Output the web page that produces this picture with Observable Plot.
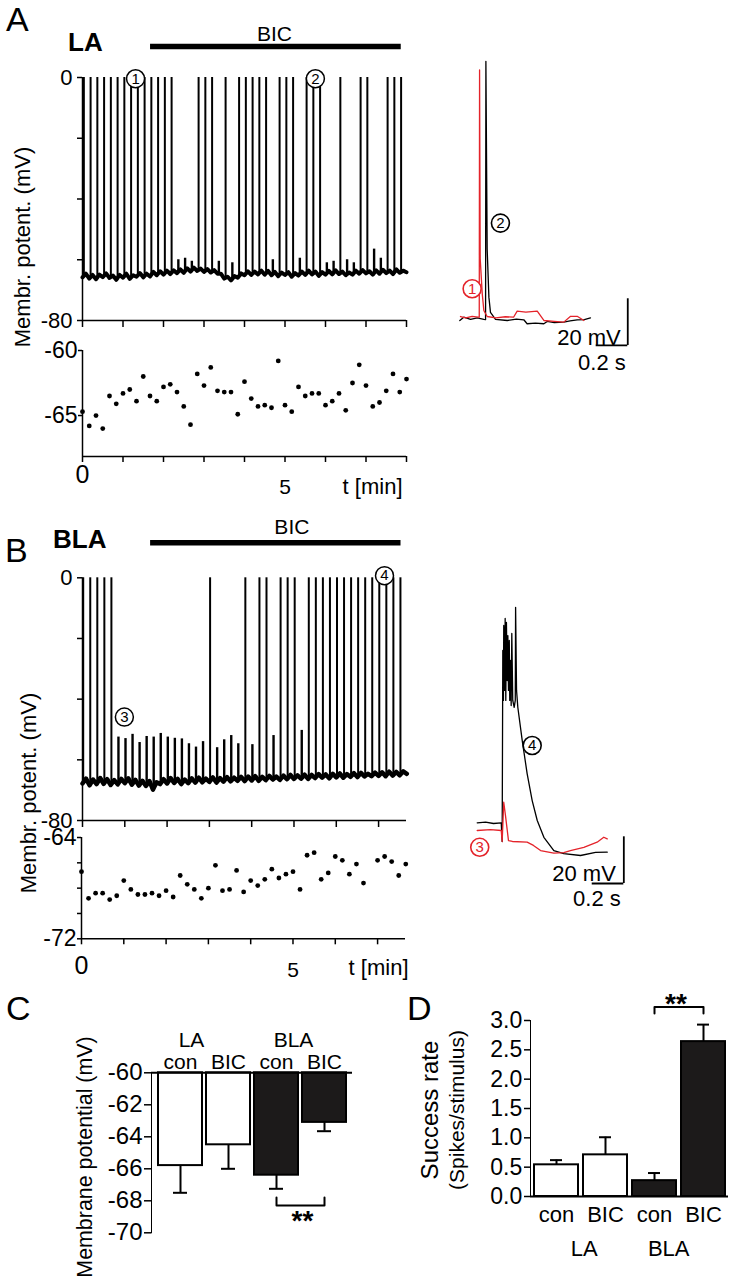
<!DOCTYPE html>
<html><head><meta charset="utf-8">
<script src="https://cdn.jsdelivr.net/npm/d3@7"></script>
<script src="https://cdn.jsdelivr.net/npm/@observablehq/plot@0.6"></script>
<style>
body{margin:0;background:#fff;}
#fig{position:relative;width:733px;height:1280px;font-family:"Liberation Sans",Arial,Helvetica,sans-serif;color:#000;overflow:hidden;}
.lbl{position:absolute;white-space:nowrap;line-height:1;}
.rot{position:absolute;white-space:nowrap;text-align:center;transform:translate(-50%,-50%) rotate(-90deg);}
#fig svg [aria-label^="y-axis"] path,#fig svg [aria-label^="x-axis"] path{stroke-width:1.5px;}
</style></head><body><div id="fig"></div>
<script>
// ================= DATA =================
const RED = "#e4232a";
const sampleStepSec = 5;    // baseline trace sampling (s)
const scatterStepSec = 10;  // membrane potential sampling (s)

// ---- Panel A (LA) ----
const baselineA = [
-65.8,-64.6,-66.2,-65.0,-66.4,-64.9,-65.7,-64.5,-66.0,-65.2,-66.6,-65.0,-65.9,-64.6,-66.3,-65.1,-65.6,-64.4,-65.8,
-64.6,-65.5,-64.0,-65.1,-63.8,-64.9,-63.6,-64.7,-63.5,-64.4,
-63.2,-64.3,-62.8,-63.9,-62.6,-63.7,
-62.9,-64.0,-63.1,-64.2,-63.4,-64.6,
-64.6,-66.2,-65.6,-66.8,-65.4,-65.9,-64.5,-65.1,
-63.8,-65.0,-63.9,-64.8,-63.6,-64.9,-63.7,-65.1,-64.0,-65.4,-64.2,-65.0,
-64.1,-65.6,-64.4,-65.2,-63.9,-65.0,-63.6,-64.8,-63.9,-65.3,-64.1,-64.9,
-63.7,-64.8,-63.5,-64.7,-63.9,-65.1,-64.2,-64.9,-63.6,-64.6,-63.4,-64.5,
-63.8,-64.9,-63.5,-64.6,-63.3,-64.4,-63.6,-64.7,-63.2,-64.3,-63.6,-64.1];
const spikeTimesA = [2,12,22,32,42,52,62,72,82,92,102,112,122,132,172,182,192,212,232,242,252,262,272,292,302,312,332,342,352,382,412,422,452,462,472];
const epspTimesA = [142,152,162,202,222,282,322,362,372,392,402,432,442];
const epspPeaksA = [-60.0,-59.5,-60.5,-60.5,-61.0,-60.0,-59.5,-61.0,-60.5,-60.0,-61.0,-56.5,-59.5];
const bicA = {start: 1.68, end: 7.87, label: "BIC", labelAt: 4.74};
const markersA = [{n: "1", t: 1.31, v: -0.4}, {n: "2", t: 5.75, v: -0.4}];
const scatterA = [-64.7,-65.8,-65.0,-66.0,-63.5,-64.1,-63.3,-63.0,-63.9,-62.0,-63.5,-63.9,-62.8,-62.6,-63.2,-64.3,-65.7,-61.8,-62.7,-61.3,-63.1,-63.2,-63.2,-64.9,-62.4,-63.7,-64.3,-64.2,-64.4,-60.8,-64.2,-64.7,-62.8,-63.5,-63.3,-63.3,-64.2,-63.9,-63.3,-64.6,-62.5,-61.1,-62.7,-64.3,-64.0,-63.1,-61.8,-63.2,-62.2];

// inset A traces: [time ms, mV]
const insetA_red = [[6,-64.7],[40,-65.3],[80,-64.6],[118,-65.0],[125,-65.0],[127,40.9],[131,-40.0],[144,-55.0],[154,-62.1],[175,-64.7],[230,-65.3],[290,-64.8],[342,-65.0],[365,-62.4],[420,-62.8],[492,-62.4],[534,-66.4],[600,-66.8],[660,-67.1],[703,-64.6],[745,-64.6],[787,-66.4]];
const insetA_black = [[2,-66.4],[27,-65.0],[70,-65.9],[112,-65.3],[154,-65.9],[165,-66.0],[167,44.6],[175,-35.7],[186,-56.4],[196,-62.9],[228,-65.9],[302,-66.4],[360,-65.8],[407,-66.1],[428,-67.8],[480,-67.5],[534,-67.8],[555,-66.8],[600,-67.3],[660,-67.1],[700,-66.6],[745,-66.1],[790,-66.0],[829,-65.3]];
const insetA_markers = [{n: "1", t: 80, v: -52.8, c: RED}, {n: "2", t: 259, v: -24.7, c: "black"}];
const scaleBarA = {t: 1065, v: -77.1, dt: 200, dv: 20, tLabel: "0.2 s", vLabel: "20 mV"};

// ---- Panel B (BLA) ----
const baselineB = [
-67.8,-66.2,-68.4,-66.5,-68.0,-66.0,-67.9,-66.4,-68.3,-66.7,-68.1,-66.3,-67.7,
-66.1,-68.2,-66.6,-68.5,-66.9,-68.6,-67.0,-69.8,-67.4,-68.0,-66.4,-67.8,
-66.0,-67.6,-66.3,-68.0,-66.5,-67.7,-66.1,-67.5,-65.9,-67.4,-66.2,-67.3,
-65.8,-67.5,-66.0,-67.2,-65.7,-67.1,-65.9,-66.9,-65.6,-67.0,-65.5,-66.8,
-65.4,-66.9,-65.6,-66.7,-65.3,-66.5,-65.5,-66.6,-65.2,-66.4,-65.0,-66.3,
-65.1,-66.2,-64.9,-66.3,-65.0,-66.0,-64.7,-65.9,-64.8,-66.1,-64.6,-65.8,
-64.5,-65.9,-64.7,-65.6,-64.4,-65.7,-64.3,-65.5,-64.6,-65.4,-64.2,-65.3,
-64.1,-65.4,-63.9,-65.2,-64.0,-65.1,-63.8,-64.6];
const spikeTimesB = [1,11,21,31,41,181,231,251,261,281,291,301,321,331,341,351,361,371,381,391,401,411,421,431,441,451];
const epspTimesB = [51,61,71,81,91,101,111,121,131,141,151,161,171,191,201,211,221,241,271,311];
const epspPeaksB = [-52.5,-53.0,-51.6,-54.3,-52.3,-52.5,-51.3,-52.5,-52.9,-53.1,-54.7,-55.8,-54.0,-56.0,-53.4,-52.0,-54.7,-55.0,-52.0,-50.3];
const bicB = {start: 1.61, end: 7.53, label: "BIC", labelAt: 4.95};
const markersB = [{n: "3", t: 0.99, v: -45.9}, {n: "4", t: 7.14, v: 0.7}];
const scatterB = [-66.7,-68.8,-68.4,-68.4,-68.9,-68.6,-67.4,-68.1,-68.5,-68.5,-68.4,-68.6,-68.2,-68.7,-67.0,-67.7,-68.1,-68.8,-68.0,-66.2,-68.2,-68.1,-66.6,-68.3,-67.4,-67.8,-67.3,-66.5,-67.2,-66.9,-66.7,-68.1,-65.4,-65.2,-67.3,-66.8,-65.5,-65.8,-66.9,-66.1,-67.6,null,-65.8,-65.5,-65.9,-67.0,-66.1];

const insetB_red = [[0,-65.0],[84,-64.6],[152,-65.0],[158,-69.7],[168,-52.9],[179,-58.6],[198,-69.3],[223,-69.7],[316,-70.0],[356,-71.4],[401,-73.6],[485,-74.7],[548,-74.5],[590,-73.6],[675,-72.2],[759,-70.0],[801,-67.9],[823,-68.6]];
const insetB_black = [[0,-61.7],[53,-61.4],[103,-62.0],[152,-61.7],[158,-69.7],[162,12.1],[166,-9.3],[168,22.8],[173,-5.0],[177,25.8],[181,-9.3],[185,24.1],[190,-0.8],[194,18.5],[198,-5.0],[203,16.4],[206,-9.3],[211,7.8],[215,-11.5],[219,19.4],[225,-9.3],[234,-12.3],[241,-9.3],[243,30.6],[249,-5.0],[257,-12.2],[285,-26.5],[316,-40.6],[348,-52.2],[380,-60.7],[422,-67.9],[485,-73.6],[548,-74.9],[654,-75.7],[749,-74.4],[823,-74.3]];
const insetB_markers = [{n: "4", t: 348, v: -28.6, c: "black"}, {n: "3", t: 16, v: -72.2, c: RED}];
const scaleBarB = {t: 928, v: -87.7, dt: 200, dv: 20, tLabel: "0.2 s", vLabel: "20 mV"};

// ---- Panels C & D ----
const regions = ["LA", "BLA"];
const conditions = ["con", "BIC"];
const membMean = [-65.8, -64.5, -66.4, -63.1];
const membSem = [1.7, 1.5, 0.85, 0.55];
const rateMean = [0.54, 0.71, 0.27, 2.64];
const rateSem = [0.08, 0.30, 0.13, 0.29];
const membTicks = [-60, -62, -64, -66, -68, -70];
const rateTicks = [0, 0.5, 1, 1.5, 2, 2.5, 3];
const sigC = {from: "BLA con", to: "BLA BIC", level: -68.3, end: -67.8, textLevel: -69.8, label: "**"};
const sigD = {from: "BLA con", to: "BLA BIC", level: 3.23, end: 3.12, textLevel: 3.12, label: "**"};

// ================= BUILD =================
const FONT = '"Liberation Sans", Arial, Helvetica, sans-serif';
const fig = document.getElementById("fig");
function mount(svg, left, top) {
  svg.style.position = "absolute";
  svg.style.left = left + "px";
  svg.style.top = top + "px";
  svg.style.background = "transparent";
  svg.style.overflow = "visible";
  fig.appendChild(svg);
}
function addLabel(text, left, top, size, weight, extra) {
  const d = document.createElement("div");
  d.className = "lbl";
  d.textContent = text;
  d.style.left = left + "px"; d.style.top = top + "px";
  d.style.fontSize = size + "px"; d.style.fontWeight = weight || "normal";
  if (extra) Object.assign(d.style, extra);
  fig.appendChild(d);
}
function addRotated(html, cx, cy, size, lineHeight) {
  const d = document.createElement("div");
  d.className = "rot";
  d.innerHTML = html;
  d.style.left = cx + "px"; d.style.top = cy + "px";
  d.style.fontSize = size + "px"; d.style.lineHeight = lineHeight;
  fig.appendChild(d);
}
const baseStyle = (fs) => ({fontFamily: FONT, fontSize: fs + "px", background: "transparent", color: "black", overflow: "visible"});

function tracePlot(baseline, spikes, epspT, epspV, bic, markers, cfg) {
  const base = baseline.map((v, i) => ({t: i * sampleStepSec / 60, v}));
  const at = s => baseline[Math.min(baseline.length - 1, Math.round(s / sampleStepSec))];
  const sp = spikes.map(s => ({t: s / 60, b: at(s), p: 0}));
  const ep = epspT.map((s, i) => ({t: s / 60, b: at(s), p: epspV[i]}));
  return Plot.plot({
    width: 420, height: 335,
    marginLeft: 82, marginRight: 14, marginTop: cfg.mt, marginBottom: 15,
    style: baseStyle(22),
    x: {domain: [0, cfg.xmax], ticks: cfg.xticks, tickSize: 7, tickFormat: () => "", label: null},
    y: {domain: [-80, 0], ticks: [0, -20, -40, -60, -80], tickSize: 5, tickPadding: 5,
        tickFormat: d => (d === 0 || d === -80) ? String(d) : "", label: null},
    marks: [
      Plot.ruleX([0], {strokeWidth: 1.5}),
      Plot.ruleY([-80], {strokeWidth: 1.5}),
      Plot.ruleX(ep, {x: "t", y1: "b", y2: "p", strokeWidth: 2.4}),
      Plot.line(base, {x: "t", y: "v", strokeWidth: cfg.bw, strokeLinejoin: "round"}),
      Plot.ruleX(sp, {x: "t", y1: "b", y2: "p", strokeWidth: 2}),
      Plot.ruleY([bic], {y: () => 0, x1: "start", x2: "end", dy: cfg.barDy, strokeWidth: 5.5}),
      Plot.text([bic], {x: "labelAt", y: () => 0, text: "label", dy: cfg.textDy, lineAnchor: "bottom", fontSize: 21}),
      Plot.dot(markers, {x: "t", y: "v", r: 9, fill: "white", stroke: "black", strokeWidth: 1.5}),
      Plot.text(markers, {x: "t", y: "v", text: "n", fontSize: 15})
    ]
  });
}

function scatterPlot(values, cfg) {
  const pts = values.map((v, i) => ({t: i * scatterStepSec / 60, v})).filter(d => d.v != null);
  return Plot.plot({
    width: 420, height: 170,
    marginLeft: cfg.ml, marginRight: cfg.mr, marginTop: cfg.mt, marginBottom: cfg.mb,
    style: baseStyle(cfg.fs),
    x: {domain: [0, cfg.xmax], ticks: cfg.xticks, tickSize: 6, tickFormat: () => "", label: null},
    y: {domain: cfg.ydomain, ticks: cfg.yticks, tickSize: 4, tickPadding: 1,
        tickFormat: d => cfg.ylabels.includes(d) ? String(d) : "", label: null},
    marks: [
      Plot.ruleX([0], {strokeWidth: 1.5}),
      Plot.ruleY([cfg.ydomain[0]], {strokeWidth: 1.5}),
      Plot.dot(pts, {x: "t", y: "v", r: 2.4, fill: "black", stroke: "none"}),
      Plot.text([0], {x: d => d, frameAnchor: "bottom", text: d => String(d), lineAnchor: "bottom", dy: cfg.dy0, fontSize: 25}),
      Plot.text([5], {x: d => d, frameAnchor: "bottom", text: d => String(d), lineAnchor: "bottom", dy: cfg.dy5, fontSize: 21}),
      Plot.text(["t [min]"], {x: () => cfg.xmax, frameAnchor: "bottom", text: d => d, textAnchor: "end", dx: cfg.tdx, lineAnchor: "bottom", dy: cfg.dyt, fontSize: 22})
    ]
  });
}

function insetPlot(red, black, markers, bar, cfg) {
  const toObj = a => a.map(([t, v]) => ({t, v}));
  return Plot.plot({
    width: cfg.w, height: cfg.h, margin: 0,
    style: baseStyle(22),
    x: {domain: cfg.xd, axis: null},
    y: {domain: cfg.yd, axis: null},
    marks: [
      Plot.line(toObj(black), {x: "t", y: "v", stroke: "black", strokeWidth: 1.3}),
      Plot.line(toObj(red), {x: "t", y: "v", stroke: RED, strokeWidth: 1.3}),
      Plot.dot(markers, {x: "t", y: "v", r: 9, fill: "white", stroke: "c", strokeWidth: 1.6}),
      Plot.text(markers, {x: "t", y: "v", text: "n", fill: "c", fontSize: 15}),
      Plot.ruleX([bar], {x: "t", y1: "v", y2: d => d.v + d.dv, strokeWidth: 1.8}),
      Plot.ruleY([bar], {y: "v", x1: d => d.t - d.dt, x2: "t", strokeWidth: 1.8}),
      Plot.text([bar], {x: "t", y: "v", text: "vLabel", textAnchor: "end", lineAnchor: "bottom", dx: cfg.vdx, dy: cfg.vdy, fontSize: 22}),
      Plot.text([bar], {x: "t", y: "v", text: "tLabel", textAnchor: "end", lineAnchor: "bottom", dx: cfg.tdx, dy: cfg.tdy, fontSize: 22})
    ]
  });
}

function barData(means, sems) {
  const out = [];
  regions.forEach((r, ri) => conditions.forEach((c, ci) => {
    const i = ri * conditions.length + ci;
    out.push({key: r + " " + c, region: r, cond: c, mean: means[i], sem: sems[i]});
  }));
  return out;
}
const keys = regions.flatMap(r => conditions.map(c => r + " " + c));
const colorScale = {domain: regions, range: ["#ffffff", "#1c1a1a"]};

// ---- Panel A ----
mount(tracePlot(baselineA, spikeTimesA, epspTimesA, epspPeaksA, bicA, markersA,
  {mt: 77, xmax: 8, xticks: d3.range(0, 9), barDy: -31, textDy: -37, bw: 4}), 0, 0);
mount(scatterPlot(scatterA, {ml: 82, mr: 14, mt: 20, mb: 44, fs: 23, xmax: 8, xticks: d3.range(0, 9),
  ydomain: [-68.15, -60], yticks: [-60, -65], ylabels: [-60, -65], dy0: 26, dy5: 37, dyt: 37, tdx: -4}), 0, 330);
mount(insetPlot(insetA_red, insetA_black, insetA_markers, scaleBarA,
  {w: 200, h: 340, xd: [-120.3, 1145.6], yd: [-92.1, 53.5], vdx: -7, vdy: 0, tdx: -2, tdy: 25}), 440, 40);

// ---- Panel B ----
mount(tracePlot(baselineB, spikeTimesB, epspTimesB, epspPeaksB, bicB, markersB,
  {mt: 77.3, xmax: 7.66, xticks: d3.range(0, 8), barDy: -35, textDy: -44, bw: 4.5}), 0, 500);
mount(scatterPlot(scatterB, {ml: 81, mr: 15, mt: 16, mb: 52.7, fs: 23, xmax: 7.66, xticks: d3.range(0, 8),
  ydomain: [-72, -64], yticks: [-64, -66, -68, -70, -72], ylabels: [-64, -72], dy0: 34.7, dy5: 37.7, dyt: 36, tdx: 3}), 0, 821);
mount(insetPlot(insetB_red, insetB_black, insetB_markers, scaleBarB,
  {w: 220, h: 420, xd: [-232.3, 1160.1], yd: [-103.54, 76.33], vdx: -8, vdy: -3, tdx: -3, tdy: 22}), 440, 500);

// ---- Panel C ----
const barsC = barData(membMean, membSem);
const bracketC = [{key: sigC.from, v: sigC.end}, {key: sigC.from, v: sigC.level}, {key: sigC.to, v: sigC.level}, {key: sigC.to, v: sigC.end}];
mount(Plot.plot({
  width: 370, height: 280, marginLeft: 151, marginRight: 18, marginTop: 72.3, marginBottom: 47.7,
  style: baseStyle(24),
  x: {type: "band", domain: keys, paddingInner: 0.08, paddingOuter: 0, insetLeft: 6, insetRight: 5, axis: null},
  y: {domain: [-70, -60], ticks: membTicks, tickFormat: () => "", tickSize: 7, tickPadding: 2, line: true, label: null},
  color: colorScale,
  marks: [
    Plot.text(membTicks, {y: d => d, text: d => String(d), frameAnchor: "left", textAnchor: "end", dx: -9, fontSize: 24}),
    Plot.ruleX(barsC, {x: "key", y1: "mean", y2: d => d.mean - d.sem, strokeWidth: 2}),
    Plot.tickY(barsC, {x: "key", y: d => d.mean - d.sem, insetLeft: 15, insetRight: 15, strokeWidth: 2}),
    Plot.barY(barsC, {x: "key", y1: () => -60, y2: "mean", fill: "region", stroke: "black", strokeWidth: 2}),
    Plot.ruleY([-60], {strokeWidth: 2}),
    Plot.text(barsC, {x: "key", text: "cond", frameAnchor: "top", lineAnchor: "bottom", dy: -4.3, fontSize: 21}),
    Plot.text(barsC.filter(d => d.cond === conditions[0] && d.region === "LA"), {x: "key", text: "region", frameAnchor: "top", lineAnchor: "bottom", dy: -26, dx: 11, fontSize: 21}),
    Plot.text(barsC.filter(d => d.cond === conditions[0] && d.region === "BLA"), {x: "key", text: "region", frameAnchor: "top", lineAnchor: "bottom", dy: -26, dx: 17, fontSize: 21}),
    Plot.line(bracketC, {x: "key", y: "v", strokeWidth: 2}),
    Plot.text([sigC], {x: "from", y: "textLevel", text: "label", dx: 26, lineAnchor: "bottom", fontSize: 28, fontWeight: "bold"})
  ]
}), 0, 1000);

// ---- Panel D ----
const barsD = barData(rateMean, rateSem);
const bracketD = [{key: sigD.from, v: sigD.end}, {key: sigD.from, v: sigD.level}, {key: sigD.to, v: sigD.level}, {key: sigD.to, v: sigD.end}];
mount(Plot.plot({
  width: 363, height: 290, marginLeft: 160, marginRight: 5, marginTop: 30, marginBottom: 84,
  style: baseStyle(23),
  x: {type: "band", domain: keys, paddingInner: 0.1, paddingOuter: 0, insetLeft: 3.3, insetRight: 1.3, axis: null},
  y: {domain: [0, 3], ticks: rateTicks, tickFormat: () => "", tickSize: 6, tickPadding: 2, line: true, label: null},
  color: colorScale,
  marks: [
    Plot.text(rateTicks, {y: d => d, text: d => d.toFixed(1), frameAnchor: "left", textAnchor: "end", dx: -8.3, fontSize: 23}),
    Plot.ruleX(barsD, {x: "key", y1: "mean", y2: d => d.mean + d.sem, strokeWidth: 2}),
    Plot.tickY(barsD, {x: "key", y: d => d.mean + d.sem, insetLeft: 16, insetRight: 16, strokeWidth: 2}),
    Plot.barY(barsD, {x: "key", y1: () => 0, y2: "mean", fill: "region", stroke: "black", strokeWidth: 2}),
    Plot.ruleY([0], {strokeWidth: 2}),
    Plot.text(barsD, {x: "key", text: "cond", frameAnchor: "bottom", lineAnchor: "bottom", dy: 25.7, fontSize: 22}),
    Plot.text(barsD.filter(d => d.cond === conditions[0] && d.region === "LA"), {x: "key", text: "region", frameAnchor: "bottom", lineAnchor: "bottom", dy: 59, dx: 27.7, fontSize: 22}),
    Plot.text(barsD.filter(d => d.cond === conditions[0] && d.region === "BLA"), {x: "key", text: "region", frameAnchor: "bottom", lineAnchor: "bottom", dy: 59, dx: 14.2, fontSize: 22}),
    Plot.line(bracketD, {x: "key", y: "v", strokeWidth: 2}),
    Plot.text([sigD], {x: "from", y: "textLevel", text: "label", dx: 21.5, lineAnchor: "bottom", fontSize: 28, fontWeight: "bold"})
  ]
}), 370, 990);

// ---- Panel letters, titles, axis titles ----
addLabel("A", 6, 2, 34);
addLabel("LA", 68, 29, 26, "bold");
addLabel("B", 5, 533, 34);
addLabel("BLA", 53, 526, 26, "bold");
addLabel("C", 6, 991, 34);
addLabel("D", 407, 991, 34);
addRotated("Membr. potent. (mV)", 23, 247, 22, "1");
addRotated("Membr. potent. (mV)", 29, 793, 22, "1");
addRotated("Membrane potential (mV)", 86, 1157, 21.4, "1");
addRotated('<span style="font-size:24px">Success rate</span><br>(Spikes/stimulus)', 443, 1110, 21, "26px");
</script></body></html>
